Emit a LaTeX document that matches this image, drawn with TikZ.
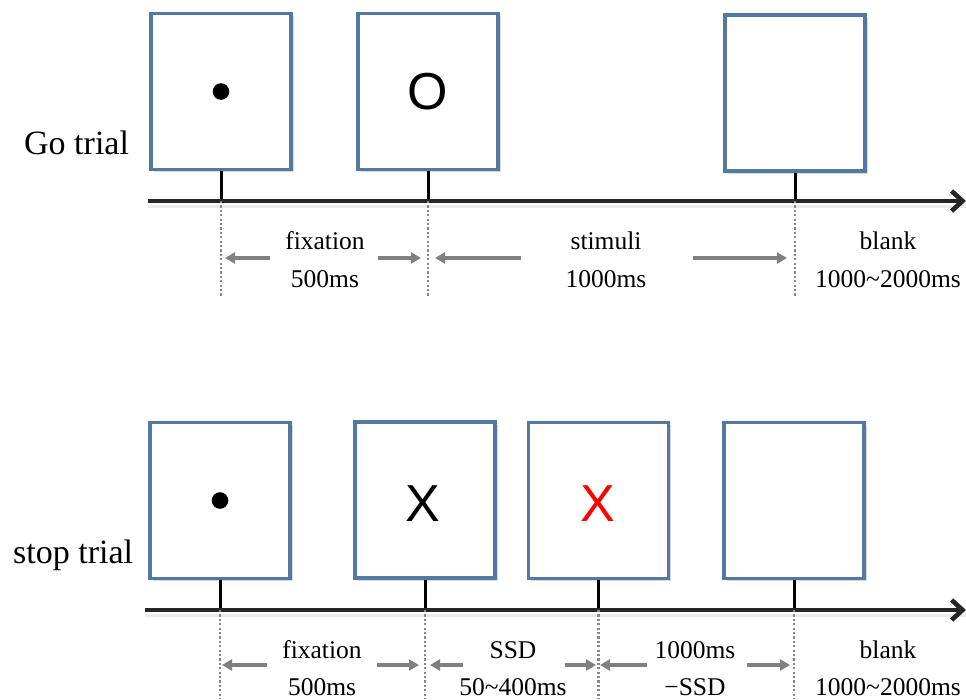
\documentclass[tikz,border=0pt]{standalone}
\usepackage{fontspec}
\setmainfont{Liberation Serif}
\newfontfamily\stimfont{Liberation Sans}
\usetikzlibrary{arrows.meta,shadows}
\definecolor{framecol}{RGB}{84,121,161}
\definecolor{dimgraycol}{RGB}{128,128,128}
\definecolor{dotcol}{RGB}{135,135,135}
\begin{document}
\begin{tikzpicture}[x=1pt,y=-1pt,
  frame/.style={draw=framecol, line width=3.2pt, fill=white, inner sep=0pt,
    minimum width=140pt, minimum height=156pt,
    drop shadow={opacity=0.3, shadow xshift=2.5pt, shadow yshift=-2.5pt}},
  stim/.style={font=\stimfont\fontsize{52}{60}\selectfont, inner sep=0pt},
  axisline/.style={line width=4.6pt, black!85, -{Straight Barb[length=11pt,width=20pt,line width=4.6pt]}},
  axisshadow/.style={line width=3pt, black, opacity=0.08},
  tickline/.style={line width=3pt, black},
  dotline/.style={line width=2.4pt, dotcol, dash pattern=on 2.2pt off 2.2pt},
  dimarrow/.style={line width=3.2pt, dimgraycol, -{Triangle[length=10pt,width=11pt]}},
  timelbl/.style={font=\fontsize{25.5}{30}\selectfont, anchor=base, inner sep=0pt},
  triallbl/.style={font=\fontsize{34}{40}\selectfont, anchor=base west, inner sep=0pt}]
\useasboundingbox (0,0) rectangle (966,699);

% ---------- Go trial ----------
\node[triallbl] (golbl) at (24,154) {Go trial};
\coordinate (ga0) at (148,201);
\coordinate (ga1) at (966,201);
\coordinate (gbot) at (0,296);
\draw[axisshadow] ([yshift=-5pt]ga0) -- ([yshift=-5pt]ga1);

\node[frame] (g1) at (221,91.5) {};
\node[frame] (g2) at (428,91.5) {};
\node[frame] (g3) at (795,93) {};
\fill (g1.center) circle (8.3);
\node[stim] (gO) at (g2.center) {O};

\draw[tickline] (g1.south) -- (g1.south |- ga0);
\draw[tickline] (g2.south) -- (g2.south |- ga0);
\draw[tickline] (g3.south) -- (g3.south |- ga0);
\draw[axisline] (ga0) -- (ga1);
\draw[dotline] (g1.south |- ga0) -- (g1.south |- gbot);
\draw[dotline] (g2.south |- ga0) -- (g2.south |- gbot);
\draw[dotline] (g3.south |- ga0) -- (g3.south |- gbot);

\node[timelbl] (gfix) at (325,249) {fixation};
\node[timelbl] (gfixt) at (325,287) {500ms};
\node[timelbl] (gstim) at (606,249) {stimuli};
\node[timelbl] (gstimt) at (606,287) {1000ms};
\node[timelbl] (gblank) at (888,249) {blank};
\node[timelbl] (gblankt) at (888,287) {1000\textasciitilde 2000ms};

\coordinate (gf1s) at (270,258); \coordinate (gf1e) at (225,258);
\coordinate (gf2s) at (378,258); \coordinate (gf2e) at (421,258);
\coordinate (gs1s) at (521,258); \coordinate (gs1e) at (435,258);
\coordinate (gs2s) at (693,258); \coordinate (gs2e) at (787,258);
\draw[dimarrow] (gf1s) -- (gf1e);
\draw[dimarrow] (gf2s) -- (gf2e);
\draw[dimarrow] (gs1s) -- (gs1e);
\draw[dimarrow] (gs2s) -- (gs2e);

% ---------- Stop trial ----------
\node[triallbl] (stlbl) at (13,563) {stop trial};
\coordinate (sa0) at (145,610);
\coordinate (sa1) at (966,610);
\coordinate (sbot) at (0,699);
\draw[axisshadow] ([yshift=-5pt]sa0) -- ([yshift=-5pt]sa1);

\node[frame] (s1) at (220,500.5) {};
\node[frame] (s2) at (425,500) {};
\node[frame] (s3) at (598.5,500.5) {};
\node[frame] (s4) at (794,500.5) {};
\fill (s1.center) circle (8.3);
\node[stim] (sX) at (423,503.5) {X};
\node[stim, text={rgb,255:red,255;green,0;blue,0}] (sXr) at (598,503.5) {X};

\draw[tickline] (s1.south) -- (s1.south |- sa0);
\draw[tickline] (s2.south) -- (s2.south |- sa0);
\draw[tickline] (s3.south) -- (s3.south |- sa0);
\draw[tickline] (s4.south) -- (s4.south |- sa0);
\draw[axisline] (sa0) -- (sa1);
\draw[dotline] (s1.south |- sa0) -- (s1.south |- sbot);
\draw[dotline] (s2.south |- sa0) -- (s2.south |- sbot);
\draw[dotline] (s3.south |- sa0) -- (s3.south |- sbot);
\draw[dotline] (s4.south |- sa0) -- (s4.south |- sbot);

\node[timelbl] (sfix) at (322,658) {fixation};
\node[timelbl] (sfixt) at (322,695) {500ms};
\node[timelbl] (sssd) at (513,658) {SSD};
\node[timelbl] (sssdt) at (513,695) {50\textasciitilde 400ms};
\node[timelbl] (srem) at (695,658) {1000ms};
\node[timelbl] (sremt) at (695,695) {−SSD};
\node[timelbl] (sblank) at (888,658) {blank};
\node[timelbl] (sblankt) at (888,695) {1000\textasciitilde 2000ms};

\coordinate (sf1s) at (267,665); \coordinate (sf1e) at (222,665);
\coordinate (sf2s) at (377,665); \coordinate (sf2e) at (419,665);
\coordinate (sd1s) at (463,665); \coordinate (sd1e) at (430,665);
\coordinate (sd2s) at (565,665); \coordinate (sd2e) at (596,665);
\coordinate (sr1s) at (647,665); \coordinate (sr1e) at (600,665);
\coordinate (sr2s) at (747,665); \coordinate (sr2e) at (790,665);
\draw[dimarrow] (sf1s) -- (sf1e);
\draw[dimarrow] (sf2s) -- (sf2e);
\draw[dimarrow] (sd1s) -- (sd1e);
\draw[dimarrow] (sd2s) -- (sd2e);
\draw[dimarrow] (sr1s) -- (sr1e);
\draw[dimarrow] (sr2s) -- (sr2e);
\end{tikzpicture}
\end{document}
